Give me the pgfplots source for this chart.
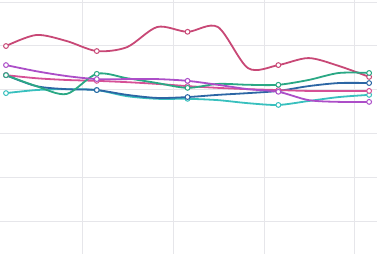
\documentclass[border=0pt]{standalone}
\usepackage{pgfplots}
\pgfplotsset{compat=1.18}
\definecolor{cred}{RGB}{200,72,118}
\definecolor{cpurple}{RGB}{172,78,200}
\definecolor{cpink}{RGB}{214,80,150}
\definecolor{cgreen}{RGB}{42,168,132}
\definecolor{cblue}{RGB}{44,102,164}
\definecolor{cteal}{RGB}{56,192,190}
\definecolor{cgrid}{RGB}{230,230,234}
\begin{document}
\begin{tikzpicture}
\begin{axis}[
  scale only axis, width=377bp, height=254bp,
  xmin=-0.198, xmax=12.26, ymin=-7.53, ymax=50.46,
  axis line style={draw=none}, tick style={draw=none},
  xtick={2.53,5.53,8.53,11.53}, ytick={0,10,20,30,40,50},
  xticklabels={}, yticklabels={},
  grid=major, major grid style={cgrid, line width=1bp},
  every axis plot/.append style={smooth, tension=0.5, line width=1.8bp, mark=*, mark size=2.4bp, mark repeat=3, mark phase=1, mark options={fill=white, line width=1bp}},
]
\addplot[cred] coordinates {(0,39.95)(1,42.47)(2,41.1)(3,38.8)(4,39.7)(5,44.3)(6,43.2)(7,44.3)(8,34.9)(9,35.6)(10,37.2)(11,35.4)(12,32.9)};
\addplot[cteal] coordinates {(0,29.2)(1,29.9)(2,30.1)(3,29.9)(4,28.5)(5,27.9)(6,27.9)(7,27.6)(8,26.9)(9,26.5)(10,27.4)(11,28.3)(12,28.8)};
\addplot[cblue] coordinates {(0,33.3)(1,30.8)(2,30.1)(3,29.9)(4,28.8)(5,28.1)(6,28.3)(7,28.8)(8,29.2)(9,29.7)(10,30.8)(11,31.5)(12,31.5)};
\addplot[cpink] coordinates {(0,33.3)(1,32.6)(2,32.2)(3,32.0)(4,31.7)(5,31.3)(6,30.8)(7,30.4)(8,30.1)(9,29.9)(10,29.7)(11,29.7)(12,29.7)};
\addplot[cgreen] coordinates {(0,33.3)(1,30.8)(2,29.0)(3,33.6)(4,32.6)(5,31.5)(6,30.4)(7,31.3)(8,31.1)(9,31.1)(10,32.2)(11,33.8)(12,33.8)};
\addplot[cpurple] coordinates {(0,35.6)(1,34.2)(2,33.1)(3,32.4)(4,32.4)(5,32.4)(6,32.0)(7,31.1)(8,30.1)(9,29.5)(10,27.6)(11,27.2)(12,27.2)};
\end{axis}
\pgfresetboundingbox
\path (current axis.south west) rectangle (current axis.north east);
\end{tikzpicture}
\end{document}
